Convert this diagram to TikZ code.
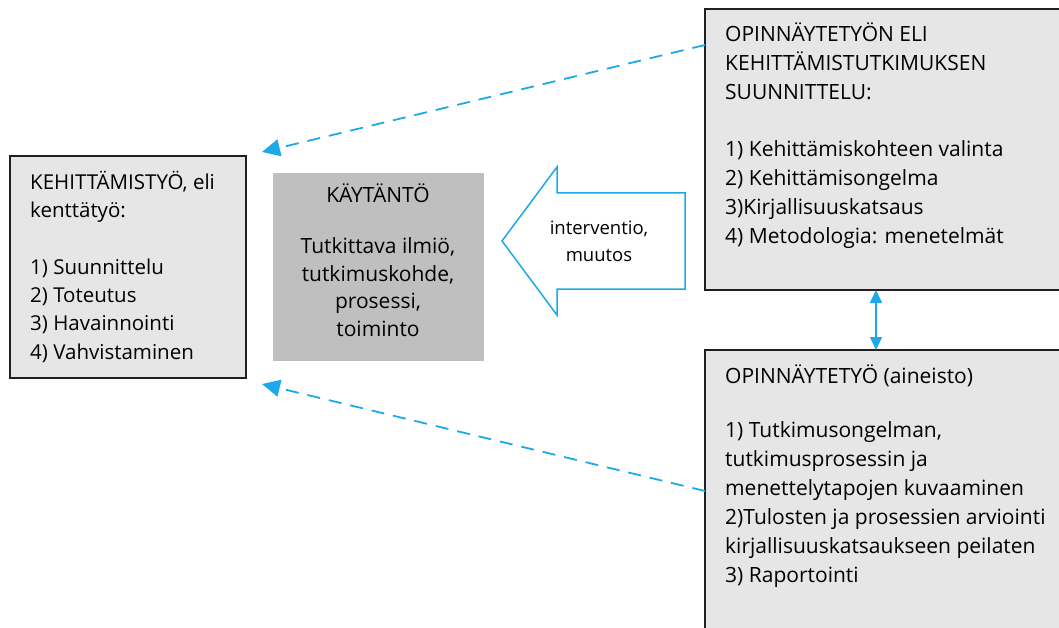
\documentclass[tikz,border=0pt]{standalone}
\usepackage{fontspec}
\setmainfont{Open Sans}
\usetikzlibrary{arrows.meta}
\definecolor{linkblue}{HTML}{1CA9E9}
\definecolor{boxgray}{HTML}{E6E6E6}
\definecolor{midgray}{HTML}{BFBFBF}
\definecolor{edge}{HTML}{231F20}
\begin{document}
\begin{tikzpicture}[x=1pt,y=-1pt,
  panel/.style={fill=boxgray,draw=edge,line width=1.6pt},
  txt/.style={anchor=north west,align=left,inner sep=0pt,
    font=\fontsize{21}{29}\selectfont,text=black},
  ctxt/.style={anchor=north,align=center,inner sep=0pt,
    font=\fontsize{21}{27.5}\selectfont,text=black},
  dashlink/.style={draw=linkblue,line width=1.8pt,dash pattern=on 13pt off 9pt,
    -{Triangle[length=18pt,width=17pt,fill=linkblue]}},
  twoway/.style={draw=linkblue,line width=1.6pt,
    {Triangle[length=13pt,width=12pt]}-{Triangle[length=13pt,width=12pt]}}
]
\useasboundingbox (0,0) rectangle (1059,628);
\begin{scope}
\clip (0,0) rectangle (1059,628);
% right-hand panels run past the right and bottom edges
\path[panel] (705,9) rectangle (1075,290);
\path[panel] (705,350) rectangle (1075,650);
\end{scope}
% left panel and the central grey block
\path[panel] (10,156) rectangle (246,378);
\fill[midgray] (273,173) rectangle (484,361);

% named anchors for the connectors
\coordinate (plan) at (705,45);
\coordinate (work) at (705,491);
\coordinate (leftTop) at (262,152);
\coordinate (leftBot) at (262,384);
\coordinate (planBot) at (876,290);
\coordinate (workTop) at (876,350);

% block arrow pointing left
\draw[linkblue,line width=1.5pt,fill=white,line join=miter]
  (685,193) -- (557,193) -- (557,167) -- (502,241) -- (557,315)
  -- (557,289) -- (685,289) -- cycle;
\node[ctxt,font=\fontsize{18.5}{27}\selectfont] (interv) at (599,221) {interventio,\\muutos};

% texts
\node[txt,font=\fontsize{20.5}{28.3}\selectfont] (kehtxt) at (30,171) {KEHITTÄMISTYÖ, eli\\kenttätyö:\\[28pt]1) Suunnittelu\\2) Toteutus\\3) Havainnointi\\4) Vahvistaminen};
\node[ctxt] (kaytxt) at (378,184) {KÄYTÄNTÖ\\[23.5pt]Tutkittava ilmiö,\\tutkimuskohde,\\prosessi,\\toiminto};
\node[txt] (plantxt) at (725,22.5) {OPINNÄYTETYÖN ELI\\KEHITTÄMISTUTKIMUKSEN\\SUUNNITTELU:\\[28pt]1) Kehittämiskohteen valinta\\2) Kehittämisongelma\\3)Kirjallisuuskatsaus\\4) Metodologia: menetelmät};
\node[txt] (worktxt) at (725,365) {OPINNÄYTETYÖ (aineisto)\\[25pt]1) Tutkimusongelman,\\tutkimusprosessin ja\\menettelytapojen kuvaaminen\\2)Tulosten ja prosessien arviointi\\kirjallisuuskatsaukseen peilaten\\3) Raportointi};

% connectors
\draw[dashlink] (plan) -- (leftTop);
\draw[dashlink] (work) -- (leftBot);
\draw[twoway] (planBot) -- (workTop);
\end{tikzpicture}
\end{document}
